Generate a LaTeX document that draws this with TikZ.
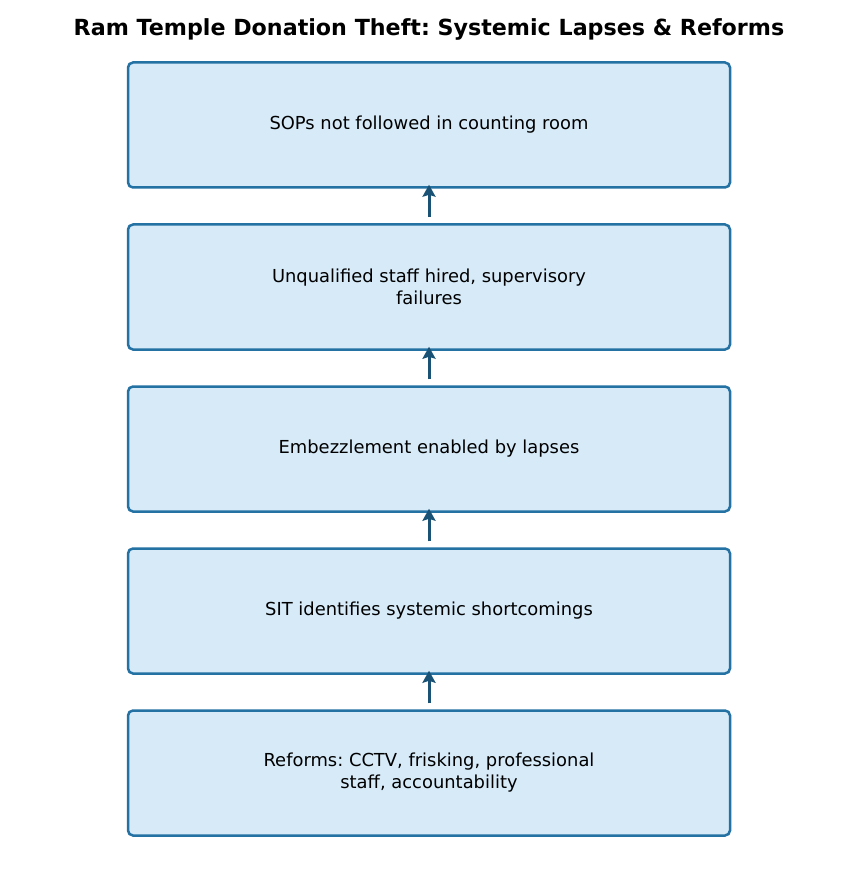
\documentclass[tikz,border=0pt]{standalone}
\usepackage{fontspec}
\setmainfont{DejaVu Sans}
\usetikzlibrary{arrows.meta}
\definecolor{boxfill}{HTML}{D6EAF8}
\definecolor{boxline}{HTML}{2471A3}
\definecolor{arrowc}{HTML}{1A5276}
\frenchspacing
\tikzset{
  stepbox/.style={draw=boxline, fill=boxfill, line width=2.5pt, rounded corners=5pt,
    minimum width=602pt, minimum height=125pt, align=center,
    font=\fontsize{17.9pt}{22pt}\selectfont, inner sep=0pt},
  flow/.style={draw=arrowc, line width=3pt, -{Stealth[length=12pt,width=13pt,inset=2pt]},
    shorten <=6pt, shorten >=-4pt}
}
\begin{document}
\begin{tikzpicture}[x=1pt,y=-1pt]
\useasboundingbox (0,0) rectangle (858,877);
\node[font=\bfseries\fontsize{22.2pt}{26pt}\selectfont] (title) at (429,29) {Ram Temple Donation Theft: Systemic Lapses \& Reforms};
\node[stepbox] (b1) at (429,125) {SOPs not followed in counting room};
\node[stepbox] (b2) at (429,287) {Unqualified staff hired, supervisory\\failures};
\node[stepbox] (b3) at (429,449) {Embezzlement enabled by lapses};
\node[stepbox] (b4) at (429,611) {SIT identifies systemic shortcomings};
\node[stepbox] (b5) at (429,773) {Reforms: CCTV, frisking, professional\\staff, accountability};
\draw[flow] (b2.north) -- (b1.south);
\draw[flow] (b3.north) -- (b2.south);
\draw[flow] (b4.north) -- (b3.south);
\draw[flow] (b5.north) -- (b4.south);
\end{tikzpicture}
\end{document}
